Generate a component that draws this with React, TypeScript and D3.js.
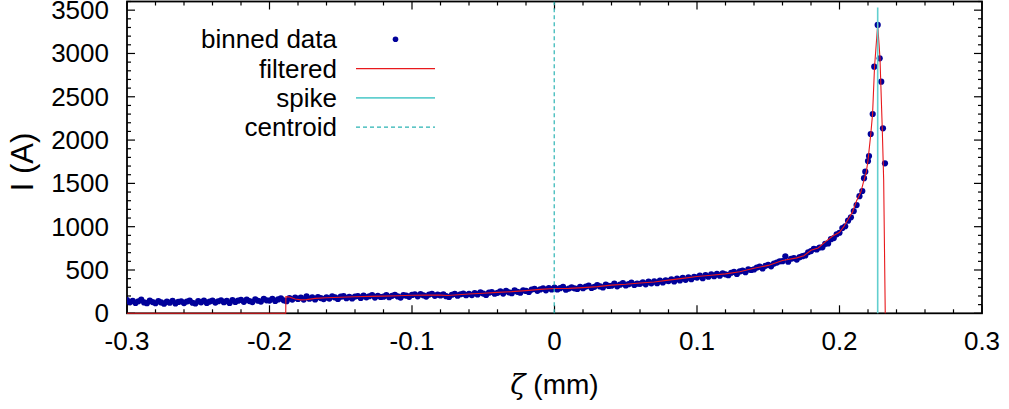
import React from 'react';
import * as d3 from 'd3';

// ---------- data ----------
const xTickValues = [-0.3, -0.2, -0.1, 0, 0.1, 0.2, 0.3];
const xTickLabels = ['-0.3', '-0.2', '-0.1', '0', '0.1', '0.2', '0.3'];
const yTickValues = [0, 500, 1000, 1500, 2000, 2500, 3000, 3500];
const yTickLabels = ['0', '500', '1000', '1500', '2000', '2500', '3000', '3500'];

// regular bins: zeta = binStart + i * binStep
const binStart = -0.3;
const binStep = 0.002;
const binnedI = [
  152, 128, 144, 120, 139, 158, 126, 117, 147, 130,
  116, 140, 125, 110, 134, 122, 145, 114, 131, 138,
  118, 136, 146, 122, 113, 140, 127, 148, 120, 135,
  146, 124, 139, 150, 128, 143, 119, 153, 131, 146,
  154, 133, 158, 141, 130, 162, 145, 135, 166, 150,
  147, 168, 142, 160, 172, 150, 139, 175, 158, 180,
  166, 182, 158, 196, 168, 185, 160, 188, 176, 164,
  184, 170, 195, 183, 166, 192, 198, 175, 189, 172,
  193, 200, 178, 205, 185, 197, 210, 181, 202, 188,
  192, 210, 186, 202, 214, 195, 182, 211, 204, 190,
  212, 220, 196, 222, 208, 193, 216, 226, 202, 215,
  206, 219, 198, 188, 214, 225, 203, 220, 228, 209,
  226, 210, 234, 218, 242, 228, 212, 238, 246, 226,
  236, 252, 228, 260, 242, 232, 265, 248, 238, 266,
  258, 246, 274, 282, 260, 276, 288, 265, 292, 276,
  296, 276, 290, 304, 272, 285, 300, 288, 282, 305,
  290, 308, 320, 292, 306, 326, 310, 298, 330, 316,
  318, 342, 312, 330, 348, 322, 336, 354, 328, 342,
  340, 358, 334, 366, 346, 370, 348, 378, 356, 380,
  372, 392, 368, 400, 380, 408, 386, 414, 394, 420,
  412, 434, 406, 442, 422, 450, 428, 456, 434, 462,
  450, 440, 468, 478, 454, 484, 492, 474, 506, 500,
  506, 528, 538, 518, 548, 560, 542, 574, 586, 600,
  602, 658, 596, 630, 638, 620, 648, 660, 668, 705,
  718, 745, 738, 760, 762, 802, 806, 856, 868, 912,
  930, 985, 1005, 1070, 1108, 1180, 1250, 1352, 1412,
];

// irregular points around the peak
const peakZeta = [0.2172, 0.2181, 0.2200, 0.2207, 0.2219, 0.2233, 0.2244, 0.2268, 0.2282, 0.2293, 0.2305, 0.2319];
const peakI = [1560, 1635, 1758, 1816, 2070, 2301, 2848, 3329, 2944, 2674, 2136, 1732];

const filteredZeta = [
  -0.3, -0.1886, -0.1885, -0.186, -0.182, -0.178, -0.174, -0.168, -0.16, -0.15, -0.14, -0.13,
  -0.12, -0.11, -0.10, -0.09, -0.08, -0.075, -0.07, -0.06, -0.05, -0.04, -0.03, -0.02, -0.01,
  0.0, 0.01, 0.02, 0.03, 0.04, 0.05, 0.06, 0.07, 0.08, 0.09, 0.10, 0.11, 0.12, 0.13, 0.14,
  0.15, 0.16, 0.17, 0.175, 0.18, 0.185, 0.19, 0.195, 0.2, 0.203, 0.206, 0.209, 0.212, 0.215,
  0.2167, 0.2188, 0.2200, 0.2219, 0.2232, 0.2246, 0.2268, 0.2284, 0.2300, 0.2310, 0.2321,
];
const filteredI = [
  0, 0, 192, 188, 165, 155, 158, 172, 180, 185, 191, 195,
  198, 203, 208, 212, 210, 205, 212, 222, 232, 242, 250, 262, 276,
  287, 288, 297, 308, 325, 335, 350, 362, 383, 403, 425, 440, 455, 480, 520,
  553, 610, 640, 665, 728, 755, 825, 890, 935, 1000, 1085, 1165, 1300, 1400,
  1508, 1630, 1765, 2060, 2300, 2850, 3330, 2950, 2136, 1535, 0,
];

const spikeZeta = 0.2268;
const spikeI = 3530;
const centroidZeta = -0.0002;

const legendLabels = ['binned data', 'filtered', 'spike', 'centroid'];

// ---------- layout ----------
const W = 1009;
const H = 409;
const plotLeft = 127;
const plotRight = 982;
const plotTop = 1.5;
const plotBottom = 313.3;
const FONT = '"Liberation Sans", Arial, sans-serif';
const FS = 26;

const DOT = '#00009a';
const RED = '#e8191c';
const SPIKE = '#62cfcf';
const CENTROID = '#2ab3b3';

export default function App() {
  const x = d3.scaleLinear().domain([-0.3, 0.3]).range([plotLeft, plotRight]);
  const y = d3.scaleLinear().domain([0, 3600]).range([plotBottom, plotTop]);

  const points: [number, number][] = binnedI.map((v, i) => [binStart + i * binStep, v]);
  peakZeta.forEach((z, i) => points.push([z, peakI[i]]));

  const filt: [number, number][] = filteredZeta.map((z, i) => [z, filteredI[i]]);
  const line = d3.line<[number, number]>().x(d => x(d[0])).y(d => y(d[1]));

  const xMinor = d3.range(-0.3, 0.3001, 0.02);
  const yMinor = d3.range(0, 3601, 100);

  const ticks: JSX.Element[] = [];
  xMinor.forEach((v, i) => {
    const major = xTickValues.some(t => Math.abs(t - v) < 1e-6);
    const len = major ? 8 : 4;
    const px = x(v);
    ticks.push(<line key={'xb' + i} x1={px} x2={px} y1={plotBottom} y2={plotBottom - len} />);
    ticks.push(<line key={'xt' + i} x1={px} x2={px} y1={plotTop} y2={plotTop + len} />);
  });
  yMinor.forEach((v, i) => {
    const major = v % 500 === 0;
    const len = major ? 8 : 4;
    const py = y(v);
    ticks.push(<line key={'yl' + i} x1={plotLeft} x2={plotLeft + len} y1={py} y2={py} />);
    ticks.push(<line key={'yr' + i} x1={plotRight} x2={plotRight - len} y1={py} y2={py} />);
  });

  const legX = 337;
  const legY0 = 39.3;
  const legDy = 29.3;
  const legL1 = 356;
  const legL2 = 435;

  return (
    <svg width={W} height={H} style={{ position: 'absolute', left: 0, top: 0, background: '#fff' }}
      fontFamily={FONT}>
      <defs>
        <clipPath id="plotclip">
          <rect x={plotLeft} y={plotTop} width={plotRight - plotLeft} height={plotBottom - plotTop + 1} />
        </clipPath>
      </defs>
      <rect x={0} y={0} width={W} height={H} fill="#fff" />

      {/* frame + ticks */}
      <g stroke="#000" strokeWidth={1.2}>{ticks}</g>
      <rect x={plotLeft} y={plotTop} width={plotRight - plotLeft} height={plotBottom - plotTop}
        fill="none" stroke="#000" strokeWidth={1.8} />

      {/* tick labels */}
      <g fontSize={FS} fill="#000">
        {xTickValues.map((v, i) => (
          <text key={'xl' + i} x={x(v)} y={350} textAnchor="middle">{xTickLabels[i]}</text>
        ))}
        {yTickValues.map((v, i) => (
          <text key={'yl' + i} x={109} y={y(v) + 9} textAnchor="end">{yTickLabels[i]}</text>
        ))}
      </g>

      {/* axis titles */}
      <text x={554.5} y={394} fontSize={28} textAnchor="middle">
        <tspan fontFamily='"DejaVu Serif", serif' fontStyle="italic">ζ</tspan> (mm)
      </text>
      <text transform="translate(33,162) rotate(-90)" fontSize={31} textAnchor="middle">I (A)</text>

      {/* data */}
      <g clipPath="url(#plotclip)">
        <g fill={DOT}>
          {points.map((p, i) => (
            <circle key={'p' + i} cx={x(p[0])} cy={y(p[1])} r={3.1} />
          ))}
        </g>
        <path d={line(filt) || ''} fill="none" stroke={RED} strokeWidth={1.1} />
        <line x1={x(spikeZeta)} x2={x(spikeZeta)} y1={y(0)} y2={y(spikeI)} stroke={SPIKE} strokeWidth={1.6} />
        <line x1={x(centroidZeta)} x2={x(centroidZeta)} y1={plotBottom} y2={plotTop}
          stroke={CENTROID} strokeWidth={1.2} strokeDasharray="4,3" />
      </g>

      {/* legend */}
      <g fontSize={FS} fill="#000">
        {legendLabels.map((l, i) => (
          <text key={'lg' + i} x={legX} y={legY0 + i * legDy + 9} textAnchor="end">{l}</text>
        ))}
      </g>
      <circle cx={(legL1 + legL2) / 2} cy={legY0} r={2.8} fill={DOT} />
      <line x1={legL1} x2={legL2} y1={legY0 + legDy} y2={legY0 + legDy} stroke={RED} strokeWidth={1.1} />
      <line x1={legL1} x2={legL2} y1={legY0 + 2 * legDy} y2={legY0 + 2 * legDy} stroke={SPIKE} strokeWidth={1.6} />
      <line x1={legL1} x2={legL2} y1={legY0 + 3 * legDy} y2={legY0 + 3 * legDy} stroke={CENTROID}
        strokeWidth={1.2} strokeDasharray="4,3" />
    </svg>
  );
}
